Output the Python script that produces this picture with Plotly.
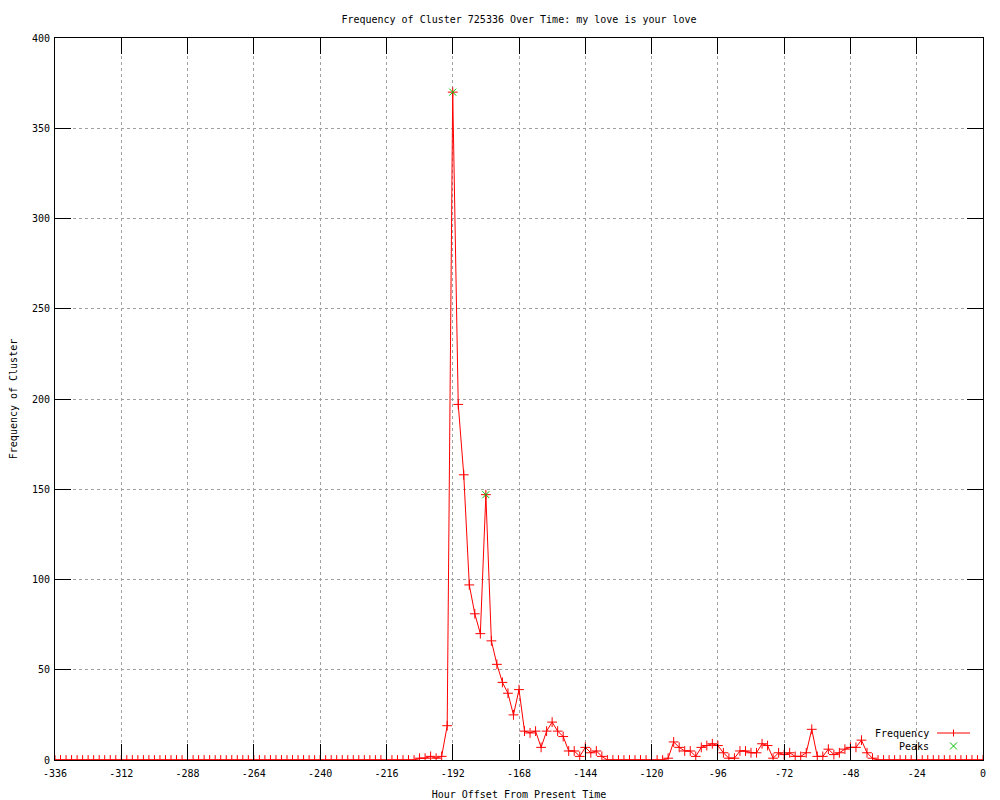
import plotly.graph_objects as go

# ---- data -------------------------------------------------------------
hours = list(range(-336, 1, 2))  # hour offsets, every 2 hours

freq = (
    [0] * 66 +  # -336 .. -206
    [1, 1, 2, 1, 2, 19, 370, 197, 158, 97, 81, 70, 147, 66, 53, 43, 37, 25,
     39, 16, 15, 16, 7, 16, 21, 16, 13, 5, 5, 2, 7, 4, 5, 2] +  # -204 .. -138
    [0] * 11 +  # -136 .. -116
    [1, 10, 7, 5, 5, 2, 7, 8, 9, 8, 4, 1, 1, 5, 5, 4, 4, 9, 8, 1, 4, 3, 4,
     2, 2, 4, 17, 2, 2, 6, 3, 4, 6, 7, 7, 11, 4, 1] +  # -114 .. -40
    [0] * 20  # -38 .. 0
)

peak_hours = [-192, -180]
peak_values = [370, 147]

x_tick_vals = [-336, -312, -288, -264, -240, -216, -192, -168, -144, -120,
               -96, -72, -48, -24, 0]
x_tick_text = ["-336", "-312", "-288", "-264", "-240", "-216", "-192", "-168",
               "-144", "-120", "-96", "-72", "-48", "-24", "0"]
y_tick_vals = [0, 50, 100, 150, 200, 250, 300, 350, 400]

title_text = "Frequency of Cluster 725336 Over Time: my love is your love"
x_title = "Hour Offset From Present Time"
y_title = "Frequency of Cluster"
legend_names = ["Frequency", "Peaks"]

RED = "#ff0000"
GREEN = "#00c000"
FONT = "DejaVu Sans Mono"

# page body margin shifts the figure; work in screen pixels and convert
OFF = 8
W, H = 1000 - OFF, 800 - OFF
# plot area in screen pixels
SX0, SX1, SY0, SY1 = 55, 983, 38, 760
L, R = SX0 - OFF, W - (SX1 - OFF)
T, B = SY0 - OFF, H - (SY1 - OFF)
PW, PH = SX1 - SX0, SY1 - SY0


def px(xs):
    return (xs - SX0) / PW


def py(ys):
    return (SY1 - ys) / PH


# ---- figure -----------------------------------------------------------
fig = go.Figure()
fig.add_trace(go.Scatter(
    x=hours, y=freq, mode="lines+markers", name=legend_names[0],
    line=dict(color=RED, width=1),
    marker=dict(symbol="cross-thin", size=7, line=dict(color=RED, width=1)),
    showlegend=False,
))
fig.add_trace(go.Scatter(
    x=peak_hours, y=peak_values, mode="markers", name=legend_names[1],
    marker=dict(symbol="x-thin", size=7, line=dict(color=GREEN, width=1)),
    showlegend=False,
))

axis_common = dict(
    showline=True, linecolor="black", linewidth=1, mirror="allticks",
    ticks="inside", ticklen=16, tickcolor="black", tickwidth=1,
    showgrid=True, gridcolor="#a0a0a0", griddash="dot", gridwidth=1,
    zeroline=False, tickfont=dict(family=FONT, size=10, color="black"),
)

fig.update_layout(
    width=W, height=H,
    margin=dict(l=L, r=R, t=T, b=B, autoexpand=False),
    paper_bgcolor="white", plot_bgcolor="white",
    font=dict(family=FONT, size=10, color="black"),
    title=dict(text=title_text, x=0.5, xref="paper", xanchor="center",
               y=1 - (19 - OFF) / H, yref="container", yanchor="middle",
               font=dict(family=FONT, size=10, color="black")),
    xaxis=dict(range=[-336, 0], tickvals=x_tick_vals, ticktext=x_tick_text,
               ticklabelstandoff=4,
               title=dict(text=x_title, standoff=12,
                          font=dict(family=FONT, size=10)),
               **axis_common),
    yaxis=dict(range=[0, 400], tickvals=y_tick_vals, ticklabelstandoff=2,
               title=dict(text=y_title, standoff=12,
                          font=dict(family=FONT, size=10)),
               **axis_common),
)

# ---- custom legend (text left, key right, like the original) ----------
fig.add_annotation(text=legend_names[0], xref="paper", yref="paper",
                   x=px(931), y=py(733), xanchor="right", yanchor="middle",
                   showarrow=False, font=dict(family=FONT, size=10))
fig.add_annotation(text=legend_names[1], xref="paper", yref="paper",
                   x=px(931), y=py(746), xanchor="right", yanchor="middle",
                   showarrow=False, font=dict(family=FONT, size=10))
# Frequency key: line with a + marker
fig.add_shape(type="line", xref="paper", yref="paper",
              x0=px(937), x1=px(970), y0=py(733), y1=py(733),
              line=dict(color=RED, width=1))
fig.add_shape(type="line", xref="paper", yref="paper",
              x0=px(953.5), x1=px(953.5), y0=py(729.5), y1=py(736.5),
              line=dict(color=RED, width=1))
# Peaks key: green x
fig.add_shape(type="line", xref="paper", yref="paper",
              x0=px(950), x1=px(957), y0=py(742.5), y1=py(749.5),
              line=dict(color=GREEN, width=1))
fig.add_shape(type="line", xref="paper", yref="paper",
              x0=px(950), x1=px(957), y0=py(749.5), y1=py(742.5),
              line=dict(color=GREEN, width=1))

fig.write_html("out.html")
